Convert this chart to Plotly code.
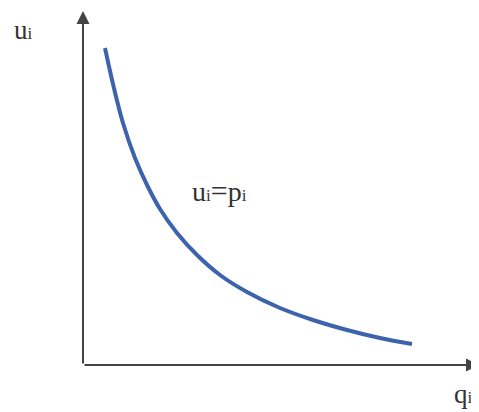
import plotly.graph_objects as go

# curve data (q, u) in chart units
q_vals = [22, 30, 40, 52, 65, 77, 94, 114, 137, 164, 197, 230, 264, 297, 329]
u_vals = [317, 281, 242, 207, 178, 156, 132, 110, 90, 73, 57, 45, 35, 27, 21]

x_label = "q"
y_label = "u"
curve_label = ("u", "p")

X_MAX = 396
Y_MAX = 353

fig = go.Figure()
fig.add_trace(go.Scatter(
    x=q_vals, y=u_vals, mode="lines",
    line=dict(color="#3d63ad", width=4, shape="spline", smoothing=1.0),
    hoverinfo="skip", showlegend=False,
))

sub = lambda s, fs=17: f"{s}<span style='font-size:{fs}px'>i</span>"
font = dict(family="Liberation Serif", size=27, color="#333333")

annotations = [
    # y axis
    dict(x=0, y=Y_MAX + 1, xref="x", yref="y", ax=0, ay=0, axref="x", ayref="y",
         showarrow=True, arrowhead=2, arrowsize=1.3, arrowwidth=2, arrowcolor="#444444", text=""),
    # x axis
    dict(x=X_MAX, y=0, xref="x", yref="y", ax=0, ay=0, axref="x", ayref="y",
         showarrow=True, arrowhead=2, arrowsize=1.3, arrowwidth=2, arrowcolor="#444444", text=""),
    dict(x=(12 - 83) / X_MAX, y=(365 - 30) / Y_MAX, xref="paper", yref="paper",
         xanchor="left", yanchor="middle", text=sub(y_label), showarrow=False, font=font),
    dict(x=(475 - 83) / X_MAX, y=(365 - 394) / Y_MAX, xref="paper", yref="paper",
         xanchor="right", yanchor="middle", text=sub(x_label), showarrow=False, font=font),
    dict(x=(190 - 83) / X_MAX, y=(365 - 190) / Y_MAX, xref="paper", yref="paper",
         xanchor="left", yanchor="middle",
         text=sub(curve_label[0]) + "<span style='font-size:30px'>=</span>" + sub(curve_label[1]),
         showarrow=False,
         font=dict(family="Liberation Serif", size=28, color="#333333")),
]

fig.update_layout(
    width=471, height=404,
    margin=dict(l=75, r=0, t=4, b=47),
    paper_bgcolor="white", plot_bgcolor="white",
    xaxis=dict(range=[0, X_MAX], showgrid=False, zeroline=False, showticklabels=False,
               showline=False, ticks=""),
    yaxis=dict(range=[0, Y_MAX], showgrid=False, zeroline=False, showticklabels=False,
               showline=False, ticks=""),
    annotations=annotations,
)

fig.write_html("out.html")
